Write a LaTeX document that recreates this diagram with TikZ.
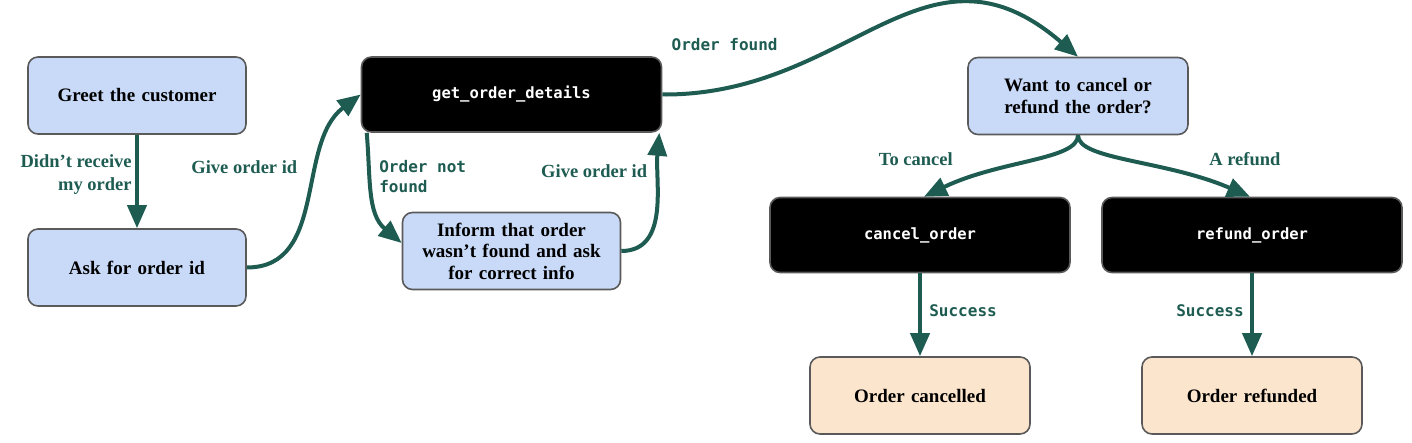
\documentclass[tikz,border=0pt]{standalone}
\usepackage{fontspec}
\setmainfont{Liberation Serif}
\setmonofont{DejaVu Sans Mono}
\usetikzlibrary{arrows.meta,positioning}
\definecolor{edgegreen}{HTML}{1E5C52}
\definecolor{boxgray}{HTML}{5A5A5A}
\definecolor{askblue}{HTML}{C9DAF8}
\definecolor{donepeach}{HTML}{FCE5CD}
\tikzstyle{block} = [rectangle, draw=boxgray, line width=1.6pt, fill=askblue,
    text width=200pt, align=center, rounded corners=10pt, minimum width=218pt, minimum height=77pt,
    font=\fontsize{19}{21.5}\selectfont\bfseries]
\tikzstyle{tool} = [block, fill=black, text=white, minimum width=300pt, minimum height=75pt,
    font=\fontsize{15.5}{18}\selectfont\ttfamily\bfseries]
\tikzstyle{done} = [block, fill=donepeach, minimum width=220pt]
\tikzstyle{line} = [draw=edgegreen, line width=4pt, -{Triangle[length=23pt,width=19pt]}]
\tikzstyle{said} = [text=edgegreen, font=\fontsize{18.5}{23}\selectfont\bfseries]
\tikzstyle{code} = [text=edgegreen, font=\fontsize{16}{20}\selectfont\ttfamily\bfseries]

\begin{document}
\begin{tikzpicture}[x=1pt, y=-1pt]
    \useasboundingbox (0,0) rectangle (1412,443);
    % Place nodes
    \node [block] (greet) at (137,95.5) {Greet the customer};
    \node [block, below of=greet, node distance=172pt] (askid) {Ask for order id};
    \node [tool] (details) at (511.5,94.5) {get\_order\_details};
    \node [block, below of=details, node distance=156.5pt] (inform) {Inform that order\\wasn't found and ask\\for correct info};
    \node [block, minimum width=220pt] (choice) at (1078,96) {Want to cancel or\\refund the order?};
    \node [tool] (cancel) at (920,235) {cancel\_order};
    \node [tool] (refund) at (1252,235) {refund\_order};
    \node [done, below of=cancel, node distance=160.5pt] (cancelled) {Order cancelled};
    \node [done, below of=refund, node distance=160.5pt] (refunded) {Order refunded};
    % Draw edges
    \path [line] (greet) -- node [said, left, align=right, pos=0.43] {Didn't receive\\my order} (askid);
    \path [line] (askid.east) to [out=0, in=217] node [said, left, pos=0.64, xshift=-16pt] {Give order id} (details.west);
    \path [line] ([xshift=6pt]details.south west) to [out=-85, in=140] node [code, right, align=left, pos=0.35, xshift=4pt] {Order not\\found} ([yshift=8pt]inform.west);
    \path [line] (inform.east) to [out=0, in=-95] node [said, left, pos=0.75, xshift=-6pt] {Give order id} ([xshift=-3pt]details.south east);
    \path [line] (details.east) .. controls (850,96) and (925,-75) .. (choice.north) node [code, pos=0, anchor=south west, xshift=4pt, yshift=38pt] {Order found};
    \path [line] (choice.south) .. controls (1078,160) and (1000,160) .. ([xshift=4pt]cancel.north) node [said, pos=0.85, above left, yshift=11pt] {To cancel};
    \path [line] (choice.south) .. controls (1078,160) and (1165,160) .. ([xshift=-2pt]refund.north) node [said, pos=0.85, above right, xshift=-8pt, yshift=11pt] {A refund};
    \path [line] (cancel) -- node [code, right, pos=0.45, xshift=4pt] {Success} (cancelled);
    \path [line] (refund) -- node [code, left, pos=0.45, xshift=-3pt] {Success} (refunded);
\end{tikzpicture}
\end{document}
